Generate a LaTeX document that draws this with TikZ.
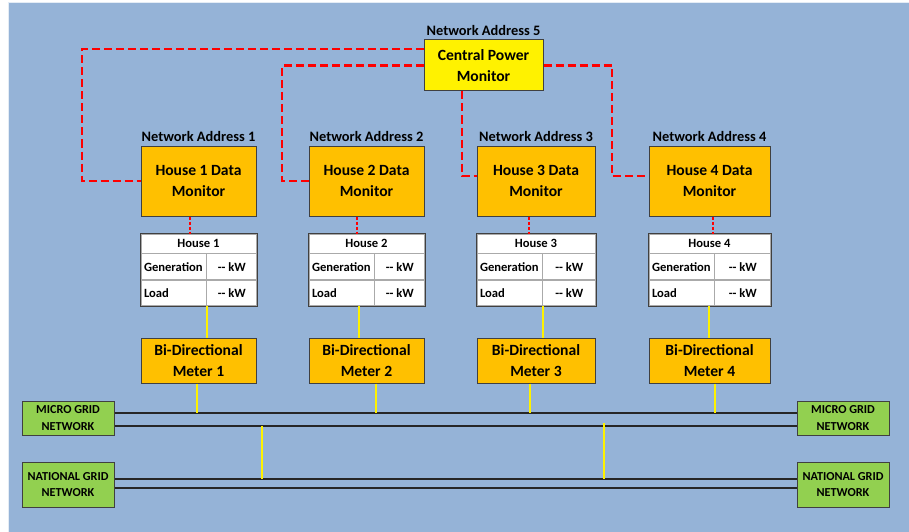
\documentclass[tikz,border=0pt]{standalone}
\usepackage{fontspec}
\setmainfont{Carlito}
\usepackage{tikz}
\usetikzlibrary{positioning}
\definecolor{bgblue}{RGB}{149,179,215}
\definecolor{boxorange}{RGB}{255,192,0}
\definecolor{gridgreen}{RGB}{146,208,80}
\definecolor{edgegray}{RGB}{64,64,64}
\definecolor{cellgray}{RGB}{170,170,170}

\begin{document}
\begin{tikzpicture}[x=1pt,y=-1pt,
		monbox/.style={draw=edgegray, line width=1pt, fill=boxorange, align=center,
			font=\fontsize{15.6}{21}\selectfont\bfseries},
		netlbl/.style={inner sep=0pt, font=\fontsize{14.4}{16}\selectfont\bfseries},
		cell/.style={draw=cellgray, line width=0.8pt, fill=white, inner sep=0pt,
			font=\fontsize{12.6}{14}\selectfont\bfseries},
		gridbox/.style={draw=edgegray, line width=1pt, fill=gridgreen, align=center,
			minimum width=92pt, font=\fontsize{12.2}{16.5}\selectfont\bfseries},
		link/.style={red, line width=2.4pt, dash pattern=on 8pt off 4pt},
		thinlink/.style={red, line width=1.1pt, dash pattern=on 3pt off 2pt},
		feed/.style={yellow, line width=2.4pt},
		busline/.style={black!85, line width=1.3pt}]
	\useasboundingbox (0,0) rectangle (909,532);
	\fill[bgblue, draw=white!75!bgblue, line width=1pt] (8,3) rectangle (909,532);

	% central monitor
	\node[monbox, fill=yellow, minimum width=119pt, minimum height=51pt] (cpm) at (483.5,65.5)
		{Central Power\\Monitor};
	\node[netlbl, above=4pt of cpm] (na5) {Network Address 5};

	% grid end boxes
	\node[gridbox, minimum height=34pt] (mgL) at (68,418) {MICRO GRID\\NETWORK};
	\node[gridbox, minimum height=34pt] (mgR) at (843,418) {MICRO GRID\\NETWORK};
	\node[gridbox, minimum height=45pt] (ngL) at (68,484.5) {NATIONAL GRID\\NETWORK};
	\node[gridbox, minimum height=45pt] (ngR) at (843,484.5) {NATIONAL GRID\\NETWORK};

	\coordinate (mgTop) at ([yshift=5]mgL.east);
	\coordinate (mgBot) at ([yshift=-8]mgL.east);
	\coordinate (ngTop) at ([yshift=5.5]ngL.east);
	\coordinate (ngBot) at ([yshift=-3.5]ngL.east);
	\draw[busline] (mgTop) -- (mgTop -| mgR.west);
	\draw[busline] (mgBot) -- (mgBot -| mgR.west);
	\draw[busline] (ngTop) -- (ngTop -| ngR.west);
	\draw[busline] (ngBot) -- (ngBot -| ngR.west);
	\draw[feed] (mgBot -| 262,0) -- (ngTop -| 262,0);
	\draw[feed] ([yshift=3]mgBot -| 604,0) -- (ngTop -| 604,0);

	% houses: x, width, red tap, yellow to meter, yellow to grid
	\foreach \i/\x/\w/\xr/\ya/\yb in {1/198.5/115/190/207/197, 2/366.5/115/357/359/376,
			3/536/118/529/543/530, 4/709.5/121/713/709/715}{
		\node[monbox, minimum width=\w pt, minimum height=70pt] (hd\i) at (\x,181)
			{House \i{} Data\\Monitor};
		\node[netlbl, above=4pt of hd\i] (na\i) {Network Address \i};

		\node[cell, minimum width=\w pt, minimum height=19pt] (th\i) at (\x,243.5) {House \i};
		\node[cell, anchor=north west, text width=59pt, inner xsep=3pt, align=left,
			minimum height=26pt] (g\i) at (th\i.south west) {Generation};
		\node[cell, anchor=north west, minimum width={(\w-65)*1pt}, minimum height=26pt]
			(gv\i) at (g\i.north east) {-{}- kW};
		\node[cell, anchor=north west, text width=59pt, inner xsep=3pt, align=left,
			minimum height=25pt] (l\i) at (g\i.south west) {Load};
		\node[cell, anchor=north west, minimum width={(\w-65)*1pt}, minimum height=25pt]
			(lv\i) at (l\i.north east) {-{}- kW};
		\draw[edgegray, line width=1pt] (th\i.north west) rectangle (lv\i.south east);

		\node[monbox, minimum width=\w pt, minimum height=45pt] (m\i) at (\x,360.5)
			{Bi-Directional\\Meter \i};

		\draw[thinlink] (hd\i.south -| \xr,0) -- (th\i.north -| \xr,0);
		\draw[feed] (lv\i.south -| \ya,0) -- (m\i.north -| \ya,0);
		\draw[feed] (m\i.south -| \yb,0) -- (mgTop -| \yb,0);
	}

	% data links to the central monitor
	\draw[link] ([yshift=16.5]cpm.west) -| (82,181) -- (hd1.west);
	\draw[link] (cpm.west) -| (282,181) -- (hd2.west);
	\draw[link] (cpm.south -| 462,0) |- ([yshift=5]hd3.west);
	\draw[link] (cpm.east) -| (612,176) -- ([yshift=5]hd4.west);
	\node[monbox, fill=yellow, minimum width=119pt, minimum height=51pt] at (cpm) {Central Power\\Monitor};
\end{tikzpicture}
\end{document}
